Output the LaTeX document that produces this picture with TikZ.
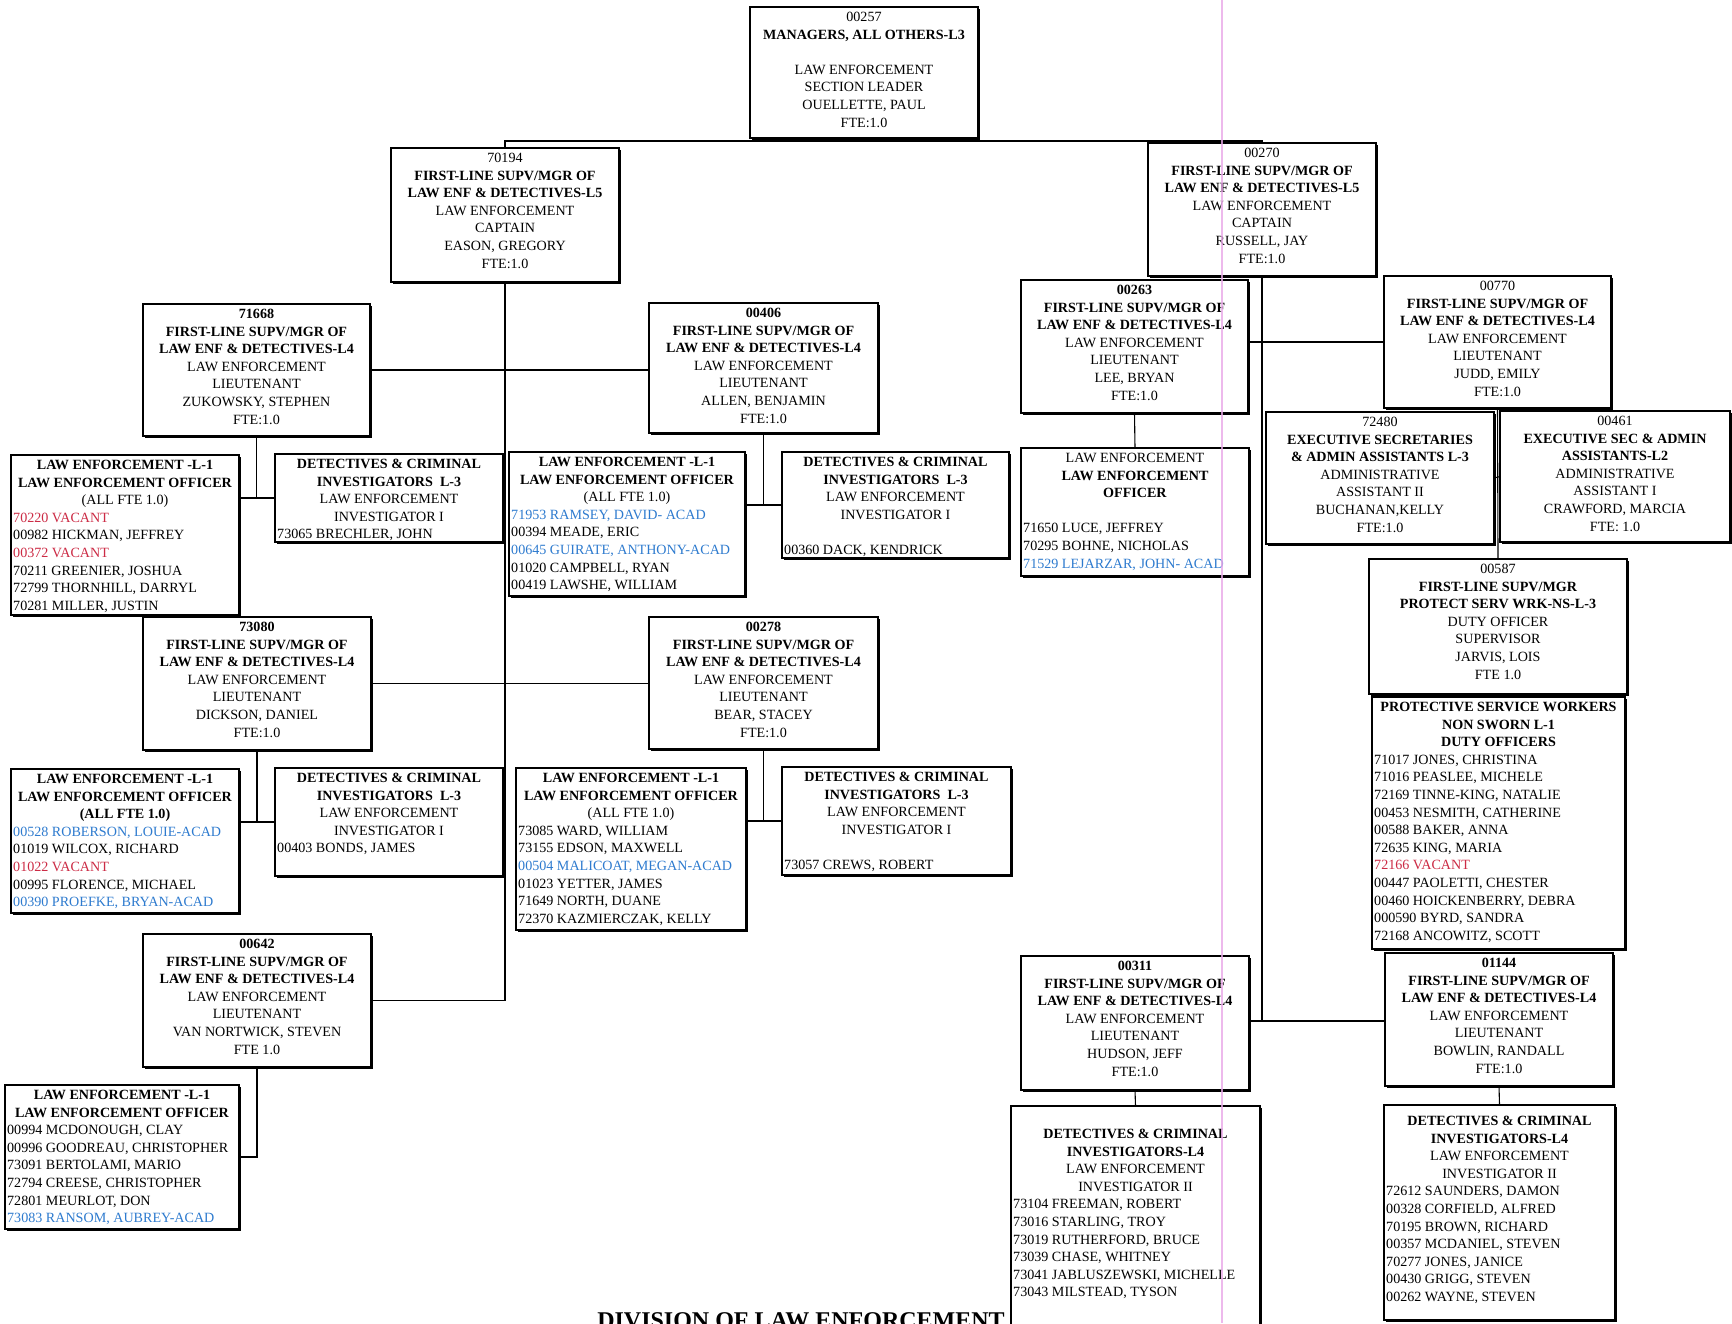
\documentclass[tikz,border=0pt]{standalone}
\usepackage{fontspec}
\setmainfont{Liberation Serif}
\usetikzlibrary{shadows}

\definecolor{vacred}{HTML}{CC2B45}
\definecolor{acadblue}{HTML}{2E7BCF}
\definecolor{marginpink}{HTML}{E9A8E8}

\newcommand\vac[1]{\textcolor{vacred}{#1}}
\newcommand\acad[1]{\textcolor{acadblue}{#1}}

% box from corner (#2,#3) to corner (#4,#5), in pixel units
\newcommand\orgbox[5]{%
  \pgfmathsetmacro\bw{#4-#2}\pgfmathsetmacro\bh{#5-#3}%
  \node[obox, minimum width=\bw pt, minimum height=\bh pt] (#1) at ({(#2+#4)/2},{(#3+#5)/2}) {};}
% centred heading lines of a box
\newcommand\head[3][0]{%
  \node[htext, anchor=north] (#2-h) at ([yshift={-5-#1}]#2.north) {#3};}
% left-aligned list of incumbents, #3 = heading lines above it
\newcommand\names[4][0]{%
  \node[ltext, anchor=north west] (#2-l) at ([xshift=2, yshift={-5-#1-#3*17.6}]#2.north west) {#4};}
% standard supervisor block
\newcommand\lt[5]{#1\\\textbf{FIRST-LINE SUPV/MGR OF}\\\textbf{LAW ENF \& DETECTIVES-#2}\\LAW ENFORCEMENT\\#3\\#4\\#5}

\tikzset{
  obox/.style={draw, line width=1.1pt, fill=white, inner sep=0pt, outer sep=0pt,
    general shadow={shadow xshift=1.5pt, shadow yshift=-1.5pt, fill=black}},
  htext/.style={align=center, inner sep=0pt, font=\fontsize{14.1}{17.6}\selectfont},
  ltext/.style={align=left, inner sep=0pt, font=\fontsize{14.1}{17.6}\selectfont},
  wire/.style={line width=1.1pt},
  titletext/.style={inner sep=0pt, font=\fontsize{24}{28}\selectfont\bfseries},
}

\begin{document}
\begin{tikzpicture}[x=1pt,y=-1pt]
\useasboundingbox (0,0) rectangle (1732,1323);
\fill[white] (0,0) rectangle (1732,1323);

% ---------- boxes ----------
\orgbox{c00257}{750}{7}{978}{138}
\head{c00257}{00257\\\textbf{MANAGERS, ALL OTHERS-L3}\\~\\LAW ENFORCEMENT\\SECTION LEADER\\OUELLETTE, PAUL\\FTE:1.0}

\orgbox{c70194}{391}{148}{619}{282}
\head{c70194}{\lt{70194}{L5}{CAPTAIN}{EASON, GREGORY}{FTE:1.0}}

\orgbox{c00270}{1148}{143}{1376}{276}
\head{c00270}{\lt{00270}{L5}{CAPTAIN}{RUSSELL, JAY}{FTE:1.0}}

\orgbox{c71668}{143}{304}{370}{436}
\head{c71668}{\lt{\textbf{71668}}{L4}{LIEUTENANT}{ZUKOWSKY, STEPHEN}{FTE:1.0}}

\orgbox{c00406}{649}{303}{878}{433}
\head{c00406}{\lt{\textbf{00406}}{L4}{LIEUTENANT}{ALLEN, BENJAMIN}{FTE:1.0}}

\orgbox{c00263}{1021}{280}{1248}{413}
\head{c00263}{\lt{\textbf{00263}}{L4}{LIEUTENANT}{LEE, BRYAN}{FTE:1.0}}

\orgbox{c00770}{1384}{276}{1611}{408}
\head{c00770}{\lt{00770}{L4}{LIEUTENANT}{JUDD, EMILY}{FTE:1.0}}

\orgbox{le1}{11}{455}{239}{615}
\head{le1}{\textbf{LAW ENFORCEMENT -L-1}\\\textbf{LAW ENFORCEMENT OFFICER}\\(ALL FTE 1.0)}
\names{le1}{3}{\vac{70220 VACANT}\\00982 HICKMAN, JEFFREY\\\vac{00372 VACANT}\\70211 GREENIER, JOSHUA\\72799 THORNHILL, DARRYL\\70281 MILLER, JUSTIN}

\orgbox{det1}{275}{454}{503}{542}
\head{det1}{\textbf{DETECTIVES \& CRIMINAL}\\\textbf{INVESTIGATORS\ \ L-3}\\LAW ENFORCEMENT\\INVESTIGATOR I}
\names{det1}{4}{73065 BRECHLER, JOHN}

\orgbox{le2}{509}{452}{745}{596}
\head{le2}{\textbf{LAW ENFORCEMENT -L-1}\\\textbf{LAW ENFORCEMENT OFFICER}\\(ALL FTE 1.0)}
\names{le2}{3}{\acad{71953 RAMSEY, DAVID- ACAD}\\00394 MEADE, ERIC\\\acad{00645 GUIRATE, ANTHONY-ACAD}\\01020 CAMPBELL, RYAN\\00419 LAWSHE, WILLIAM}

\orgbox{det2}{782}{452}{1009}{558}
\head{det2}{\textbf{DETECTIVES \& CRIMINAL}\\\textbf{INVESTIGATORS\ \ L-3}\\LAW ENFORCEMENT\\INVESTIGATOR I}
\names{det2}{5}{00360 DACK, KENDRICK}

\orgbox{leo}{1021}{448}{1249}{576}
\head{leo}{LAW ENFORCEMENT\\\textbf{LAW ENFORCEMENT}\\\textbf{OFFICER}}
\names{leo}{4}{71650 LUCE, JEFFREY\\70295 BOHNE, NICHOLAS\\\acad{71529 LEJARZAR, JOHN- ACAD}}

\orgbox{c72480}{1266}{412}{1494}{544}
\head{c72480}{72480\\\textbf{EXECUTIVE SECRETARIES}\\\textbf{\& ADMIN ASSISTANTS L-3}\\ADMINISTRATIVE\\ASSISTANT II\\BUCHANAN,KELLY\\FTE:1.0}

\orgbox{c00461}{1500}{411}{1730}{542}
\head{c00461}{00461\\\textbf{EXECUTIVE SEC \& ADMIN}\\\textbf{ASSISTANTS-L2}\\ADMINISTRATIVE\\ASSISTANT I\\CRAWFORD, MARCIA\\FTE: 1.0}

\orgbox{c73080}{143}{617}{371}{750}
\head{c73080}{\lt{\textbf{73080}}{L4}{LIEUTENANT}{DICKSON, DANIEL}{FTE:1.0}}

\orgbox{c00278}{649}{617}{878}{749}
\head{c00278}{\lt{\textbf{00278}}{L4}{LIEUTENANT}{BEAR, STACEY}{FTE:1.0}}

\orgbox{le3}{11}{769}{239}{913}
\head{le3}{\textbf{LAW ENFORCEMENT -L-1}\\\textbf{LAW ENFORCEMENT OFFICER}\\\textbf{(ALL FTE 1.0)}}
\names{le3}{3}{\acad{00528 ROBERSON, LOUIE-ACAD}\\01019 WILCOX, RICHARD\\\vac{01022 VACANT}\\00995 FLORENCE, MICHAEL\\\acad{00390 PROEFKE, BRYAN-ACAD}}

\orgbox{det3}{275}{768}{503}{876}
\head{det3}{\textbf{DETECTIVES \& CRIMINAL}\\\textbf{INVESTIGATORS\ \ L-3}\\LAW ENFORCEMENT\\INVESTIGATOR I}
\names{det3}{4}{00403 BONDS, JAMES}

\orgbox{le4}{516}{768}{746}{930}
\head{le4}{\textbf{LAW ENFORCEMENT -L-1}\\\textbf{LAW ENFORCEMENT OFFICER}\\(ALL FTE 1.0)}
\names{le4}{3}{73085 WARD, WILLIAM\\73155 EDSON, MAXWELL\\\acad{00504 MALICOAT, MEGAN-ACAD}\\01023 YETTER, JAMES\\71649 NORTH, DUANE\\72370 KAZMIERCZAK, KELLY}

\orgbox{det4}{782}{767}{1011}{875}
\head{det4}{\textbf{DETECTIVES \& CRIMINAL}\\\textbf{INVESTIGATORS\ \ L-3}\\LAW ENFORCEMENT\\INVESTIGATOR I}
\names{det4}{5}{73057 CREWS, ROBERT}

\orgbox{c00587}{1369}{559}{1627}{694}
\head{c00587}{00587\\\textbf{FIRST-LINE SUPV/MGR}\\\textbf{PROTECT SERV WRK-NS-L-3}\\DUTY OFFICER\\SUPERVISOR\\JARVIS, LOIS\\FTE 1.0}

\orgbox{psw}{1372}{697}{1625}{949}
\head{psw}{\textbf{PROTECTIVE SERVICE WORKERS}\\\textbf{NON SWORN L-1}\\\textbf{DUTY OFFICERS}}
\names{psw}{3}{71017 JONES, CHRISTINA\\71016 PEASLEE, MICHELE\\72169 TINNE-KING, NATALIE\\00453 NESMITH, CATHERINE\\00588 BAKER, ANNA\\72635 KING, MARIA\\\vac{72166 VACANT}\\00447 PAOLETTI, CHESTER\\00460 HOICKENBERRY, DEBRA\\000590 BYRD, SANDRA\\72168 ANCOWITZ, SCOTT}

\orgbox{c00642}{143}{934}{371}{1067}
\head{c00642}{\lt{\textbf{00642}}{L4}{LIEUTENANT}{VAN NORTWICK, STEVEN}{FTE 1.0}}

\orgbox{le5}{5}{1085}{239}{1229}
\head{le5}{\textbf{LAW ENFORCEMENT -L-1}\\\textbf{LAW ENFORCEMENT OFFICER}}
\names{le5}{2}{00994 MCDONOUGH, CLAY\\00996 GOODREAU, CHRISTOPHER\\73091 BERTOLAMI, MARIO\\72794 CREESE, CHRISTOPHER\\72801 MEURLOT, DON\\\acad{73083 RANSOM, AUBREY-ACAD}}

\orgbox{c00311}{1021}{956}{1249}{1090}
\head{c00311}{\lt{\textbf{00311}}{L4}{LIEUTENANT}{HUDSON, JEFF}{FTE:1.0}}

\orgbox{c01144}{1385}{953}{1613}{1086}
\head{c01144}{\lt{\textbf{01144}}{L4}{LIEUTENANT}{BOWLIN, RANDALL}{FTE:1.0}}

\orgbox{det5}{1011}{1106}{1260}{1332}
\head[18]{det5}{\textbf{DETECTIVES \& CRIMINAL}\\\textbf{INVESTIGATORS-L4}\\LAW ENFORCEMENT\\INVESTIGATOR II}
\names[18]{det5}{4}{73104 FREEMAN, ROBERT\\73016 STARLING, TROY\\73019 RUTHERFORD, BRUCE\\73039 CHASE, WHITNEY\\73041 JABLUSZEWSKI, MICHELLE\\73043 MILSTEAD, TYSON}

\orgbox{det6}{1384}{1105}{1615}{1320}
\head[6]{det6}{\textbf{DETECTIVES \& CRIMINAL}\\\textbf{INVESTIGATORS-L4}\\LAW ENFORCEMENT\\INVESTIGATOR II}
\names[6]{det6}{4}{72612 SAUNDERS, DAMON\\00328 CORFIELD, ALFRED\\70195 BROWN, RICHARD\\00357 MCDANIEL, STEVEN\\70277 JONES, JANICE\\00430 GRIGG, STEVEN\\00262 WAYNE, STEVEN}

% ---------- connectors ----------
\coordinate (bus) at (864,141);
\draw[wire] (c00257.south) -- (bus);
\draw[wire] (c70194.north) |- (bus) -| (c00270.north);

% left captain
\draw[wire] (c70194.south) |- (c00642.east);
\draw[wire] (c71668.east) -- (c71668.east -| c00406.west);
\draw[wire] (c73080.east) -- (c73080.east -| c00278.west);

\draw[wire] (c71668.south) -- (c71668.south |- det1.west);
\draw[wire] (le1.east |- det1.west) -- (det1.west);
\draw[wire] (c00406.south) -- (c00406.south |- det2.west);
\draw[wire] (le2.east |- det2.west) -- (det2.west);
\draw[wire] (c73080.south) -- (c73080.south |- det3.west);
\draw[wire] (le3.east |- det3.west) -- (det3.west);
\draw[wire] (c00278.south) -- (c00278.south |- det4.west);
\draw[wire] (le4.east |- det4.west) -- (det4.west);
\draw[wire] (c00642.south) |- (le5.east);

% right captain
\coordinate (lowbus) at (1262,1021);
\draw[wire] (c00270.south) -- (lowbus);
\draw[wire] (c00311.east |- lowbus) -- (c01144.west |- lowbus);
\draw[wire] (c00263.east |- c00770.west) -- (c00770.west);
\draw[wire] (c00263.south) -- (leo.north);
\draw[wire] (c00770.south) -- (c00587.north);
\draw[wire] (c72480.east) -- (c00461.west);
\draw[wire] (c00587.south) -- (psw.north);
\draw[wire] (c00311.south) -- (det5.north);
\draw[wire] (c01144.south) -- (det6.north);

% title along the lower edge
\node[titletext, anchor=base] (title) at (801,1328) {DIVISION OF LAW ENFORCEMENT};

% faint ruled margin line
\draw[marginpink, line width=1.3pt, opacity=0.8] (1222,0) -- (1222,1323);
\end{tikzpicture}
\end{document}
